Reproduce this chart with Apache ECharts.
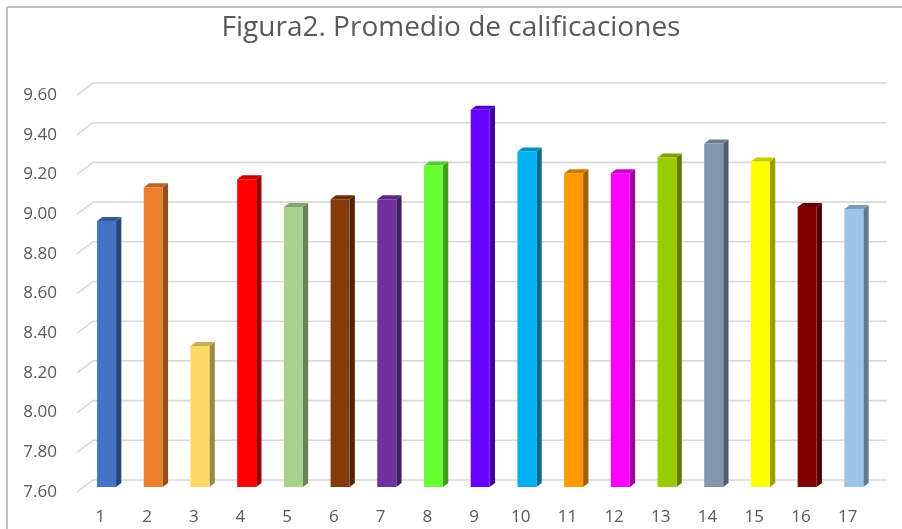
<!DOCTYPE html>
<html>
<head>
<meta charset="utf-8">
<script src="https://cdn.jsdelivr.net/npm/echarts@6/dist/echarts.min.js"></script>
<style>
  html, body { margin: 0; padding: 0; background: #fff; }
  #chart { width: 902px; height: 529px; }
</style>
</head>
<body>
<div id="chart"></div>
<script>
const categories = ['1', '2', '3', '4', '5', '6', '7', '8', '9', '10', '11', '12', '13', '14', '15', '16', '17']
const promedios = [8.94, 9.11, 8.31, 9.15, 9.01, 9.05, 9.05, 9.22, 9.50, 9.29, 9.18, 9.18, 9.26, 9.33, 9.24, 9.01, 9.00]
const barColors = ['#4472C4', '#ED7D31', '#FFD966', '#FF0000', '#A9D18E', '#843C0C', '#7030A0', '#66FF33', '#6600FF',
  '#00B0F0', '#FF9900', '#FF00FF', '#99CC00', '#8497B0', '#FFFF00', '#800000', '#9DC3E6']
const yTicks = [7.6, 7.8, 8.0, 8.2, 8.4, 8.6, 8.8, 9.0, 9.2, 9.4, 9.6]

const yMin = 7.6
const yMax = 9.6
const textColor = '#595959'

// profundidad del "3D" (pared del fondo respecto al plano frontal)
const depth = { dx: 16, dy: -12 }
const barFront = { dx: 6.7, dy: -5 }
const barSide = { dx: 5.3, dy: -4 }
const barWidth = 19

function shade(hex, k) {
  const n = parseInt(hex.slice(1), 16)
  const r = Math.round(((n >> 16) & 255) * k)
  const g = Math.round(((n >> 8) & 255) * k)
  const b = Math.round((n & 255) * k)
  return 'rgb(' + r + ',' + g + ',' + b + ')'
}

const chart = echarts.init(document.getElementById('chart'))

chart.setOption({
  backgroundColor: '#fff',
  animation: false,
  title: {
    text: 'Figura2. Promedio de calificaciones',
    left: 'center',
    top: 9,
    textStyle: {
      color: textColor,
      fontFamily: 'Open Sans',
      fontSize: 28,
      fontWeight: 'normal'
    }
  },
  graphic: [
    { type: 'line', shape: { x1: 7, y1: 7, x2: 902, y2: 7 }, style: { stroke: '#BFBFBF', lineWidth: 2 } },
    { type: 'line', shape: { x1: 7, y1: 7, x2: 7, y2: 529 }, style: { stroke: '#BFBFBF', lineWidth: 2 } }
  ],
  grid: {
    left: 77,
    right: 31,
    top: 95,
    bottom: 37
  },
  xAxis: {
    type: 'category',
    data: categories,
    axisLine: { show: false },
    axisTick: { show: false },
    axisLabel: {
      color: textColor,
      fontFamily: 'Open Sans',
      fontSize: 17,
      margin: 17
    }
  },
  yAxis: {
    type: 'value',
    min: yMin,
    max: yMax,
    interval: 0.2,
    axisLine: { show: false },
    axisTick: { show: false },
    splitLine: { show: false },
    axisLabel: {
      color: textColor,
      fontFamily: 'Open Sans',
      fontSize: 17,
      margin: 20,
      formatter: v => v.toFixed(2)
    }
  },
  series: [
    {
      // lineas de division con perspectiva
      type: 'custom',
      silent: true,
      z: 1,
      data: yTicks.map(v => [0, v]),
      renderItem(params, api) {
        const cs = params.coordSys
        const y = api.coord([0, api.value(1)])[1]
        return {
          type: 'polyline',
          shape: {
            points: [
              [cs.x, y],
              [cs.x + depth.dx, y + depth.dy],
              [cs.x + cs.width + depth.dx, y + depth.dy]
            ]
          },
          style: { stroke: '#D9D9D9', lineWidth: 1.6, fill: null }
        }
      }
    },
    {
      name: 'Promedio',
      type: 'custom',
      z: 2,
      data: promedios.map((v, i) => [i, v]),
      renderItem(params, api) {
        const i = api.value(0)
        const top = api.coord([i, api.value(1)])
        const base = api.coord([i, yMin])
        const color = barColors[i]
        const x0 = top[0] + barFront.dx - barWidth / 2 - 0.5
        const x1 = x0 + barWidth
        const yt = top[1] + barFront.dy
        const yb = base[1] + barFront.dy
        return {
          type: 'group',
          children: [
            {
              type: 'polygon',
              shape: { points: [[x1, yt], [x1 + barSide.dx, yt + barSide.dy], [x1 + barSide.dx, yb + barSide.dy], [x1, yb]] },
              style: { fill: shade(color, 0.62) }
            },
            {
              type: 'polygon',
              shape: { points: [[x0, yt], [x0 + barSide.dx, yt + barSide.dy], [x1 + barSide.dx, yt + barSide.dy], [x1, yt]] },
              style: { fill: shade(color, 0.8) }
            },
            {
              type: 'rect',
              shape: { x: x0, y: yt, width: barWidth, height: yb - yt },
              style: { fill: color }
            }
          ]
        }
      }
    }
  ]
})
</script>
</body>
</html>
